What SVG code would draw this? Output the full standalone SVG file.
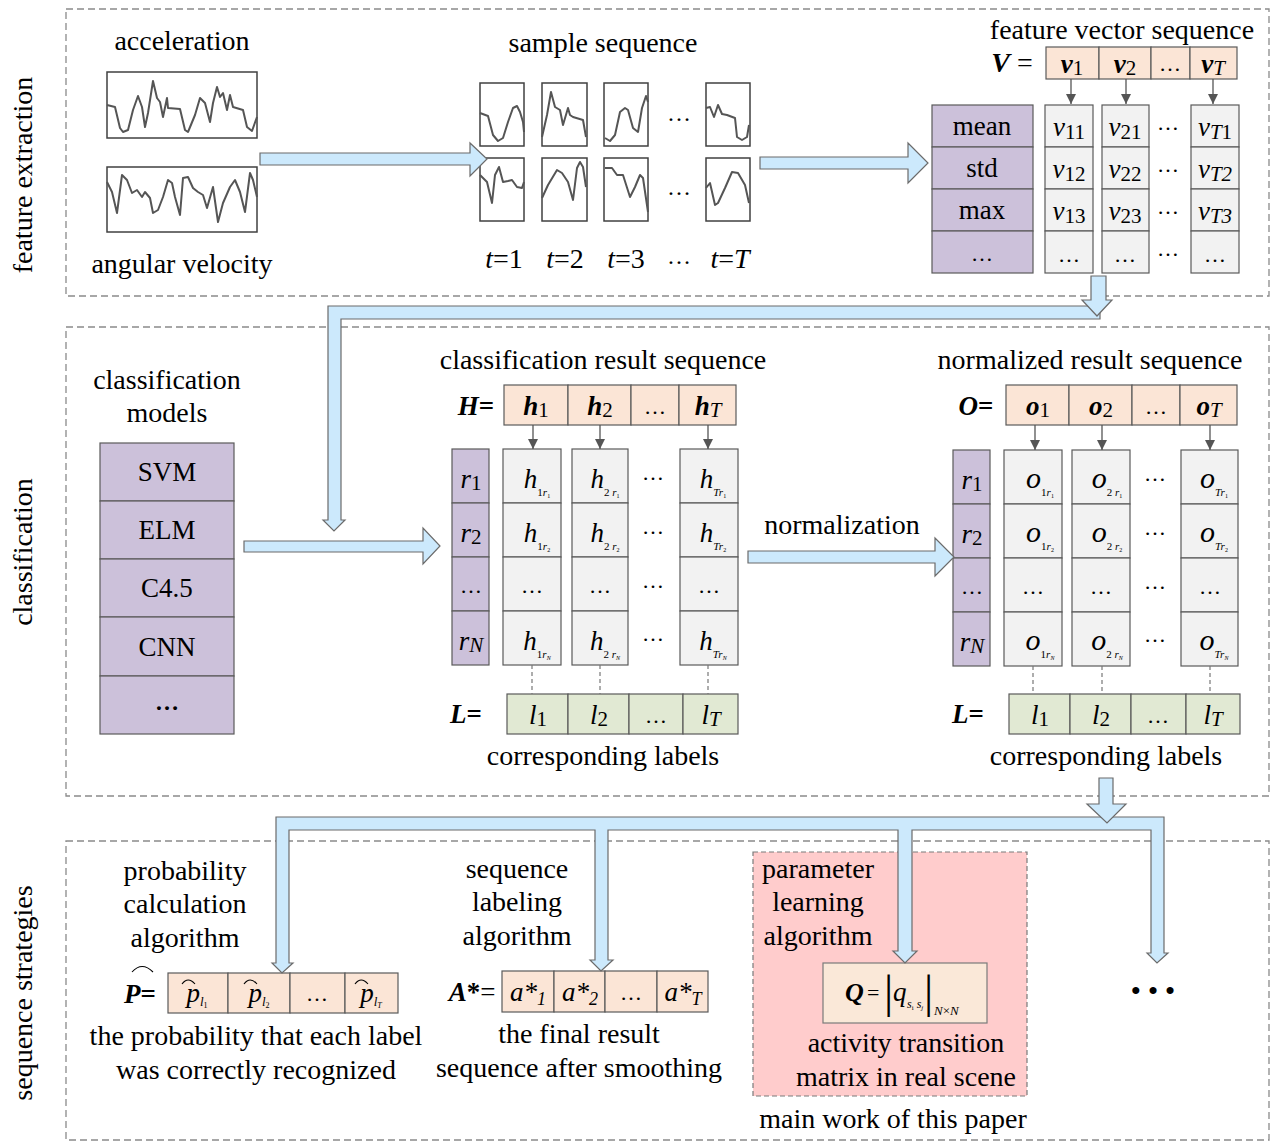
<svg xmlns="http://www.w3.org/2000/svg" width="1276" height="1142" viewBox="0 0 1276 1142" font-size="27">
<defs>
<style>
.t{font-family:"Liberation Serif","Times New Roman",serif;fill:#000}
.lb{font-size:28px}
.i{font-style:italic}
.b{font-weight:bold}
.bi{font-style:italic;font-weight:bold}
.n{font-style:normal;font-weight:normal}
.ni{font-style:italic;font-weight:normal}
.panel{fill:none;stroke:#8a8a8a;stroke-width:1.3;stroke-dasharray:7,4}
.org{fill:#fbe5d6;stroke:#5a5a5a;stroke-width:1.2}
.pur{fill:#ccc1da;stroke:#5a5a5a;stroke-width:1.2}
.gry{fill:#f2f2f2;stroke:#5a5a5a;stroke-width:1.2}
.grn{fill:#e1e9d3;stroke:#5a5a5a;stroke-width:1.2}
.sig{fill:#fff;stroke:#404040;stroke-width:1.5}
.wave{fill:none;stroke:#555;stroke-width:2;stroke-linejoin:round}
.blk{fill:#cce9fc;stroke:#6b6b6b;stroke-width:1.2}
.sa{stroke:#555;stroke-width:1.3;marker-end:url(#ah)}
.dl{stroke:#777;stroke-width:1.2;stroke-dasharray:4,3}
.hat{fill:none;stroke:#000;stroke-width:1.1}
</style>
<marker id="ah" markerWidth="10" markerHeight="10" refX="10" refY="5" orient="auto" markerUnits="userSpaceOnUse">
<path d="M0,0 L10,5 L0,10 z" fill="#555"/>
</marker>
</defs>
<rect width="1276" height="1142" fill="#fff"/>

<g id="panels">
<rect class="panel" x="66" y="9" width="1203" height="287"/>
<rect class="panel" x="66" y="327" width="1203" height="469"/>
<rect class="panel" x="66" y="841" width="1203" height="299"/>
<text class="t lb" text-anchor="middle" transform="translate(32,175) rotate(-90)">feature extraction</text>
<text class="t lb" text-anchor="middle" transform="translate(32,552) rotate(-90)">classification</text>
<text class="t lb" text-anchor="middle" transform="translate(32,993) rotate(-90)">sequence strategies</text>
</g>

<g id="signals">
<text class="t lb" x="182" y="50" text-anchor="middle">acceleration</text>
<rect class="sig" x="107" y="72" width="150" height="66"/>
<polyline class="wave" points="107,105 115,107 120,128 123,132 128,130 133,110 138,96 142,107 145,127 148,113 153,81 157,98 160,102 163,117 167,98 168,108 180,109 185,130 188,132 195,115 200,98 205,103 210,122 213,103 217,87 220,97 223,93 227,110 230,95 233,107 243,110 247,127 252,131 257,117"/>
<rect class="sig" x="107" y="167" width="150" height="65"/>
<polyline class="wave" points="107,182 112,192 117,213 122,175 127,180 132,193 137,190 142,197 145,192 150,198 153,213 158,210 163,197 168,180 172,183 175,197 180,215 183,178 188,177 193,188 198,192 203,195 207,208 213,187 218,222 223,203 230,187 235,180 240,192 245,212 250,173 253,180 257,197"/>
<text class="t lb" x="182" y="273" text-anchor="middle">angular velocity</text>
</g>

<g id="samples">
<text class="t lb" x="603" y="52" text-anchor="middle">sample sequence</text>
<rect class="sig" x="480" y="83" width="44" height="63"/>
<rect class="sig" x="542" y="83" width="45" height="63"/>
<rect class="sig" x="604" y="83" width="44" height="63"/>
<rect class="sig" x="706" y="83" width="44" height="63"/>
<rect class="sig" x="480" y="158" width="44" height="63"/>
<rect class="sig" x="542" y="158" width="45" height="63"/>
<rect class="sig" x="604" y="158" width="44" height="63"/>
<rect class="sig" x="706" y="158" width="44" height="63"/>
<polyline class="wave" points="480,113 488,116 493,135 498,141 503,138 508,122 513,108 517,106 520,112 523,122 524,132"/>
<polyline class="wave" points="542,137 547,115 551,92 555,107 560,110 563,125 568,108 570,115 573,117 583,120 586,137"/>
<polyline class="wave" points="605,138 610,141 615,135 620,112 625,108 628,110 633,128 638,132 642,108 646,96 648,102"/>
<polyline class="wave" points="706,108 710,107 714,117 718,105 722,114 727,115 735,118 737,137 742,140 747,137 749,125"/>
<polyline class="wave" points="480,175 487,182 492,203 495,175 499,167 503,182 508,181 512,180 517,187 522,188 524,182"/>
<polyline class="wave" points="542,198 548,185 557,170 562,173 568,182 573,200 577,168 580,162 583,167 586,187"/>
<polyline class="wave" points="605,168 612,168 617,175 623,175 630,197 635,187 640,175 643,178 648,212"/>
<polyline class="wave" points="706,188 710,183 715,205 718,203 725,188 732,172 738,173 745,185 749,203"/>
<text class="t" x="679" y="121" text-anchor="middle" font-size="24">…</text>
<text class="t" x="679" y="195" text-anchor="middle" font-size="24">…</text>
<text class="t lb" x="504" y="268" text-anchor="middle"><tspan class="i">t</tspan>=1</text>
<text class="t lb" x="565" y="268" text-anchor="middle"><tspan class="i">t</tspan>=2</text>
<text class="t lb" x="626" y="268" text-anchor="middle"><tspan class="i">t</tspan>=3</text>
<text class="t" x="679" y="264" text-anchor="middle" font-size="24">…</text>
<text class="t lb" x="730" y="268" text-anchor="middle"><tspan class="i">t</tspan>=<tspan class="i">T</tspan></text>
</g>

<g id="features">
<text class="t lb" x="1122" y="39" text-anchor="middle">feature vector sequence</text>
<text class="t lb" x="1012" y="72" text-anchor="middle"><tspan class="bi">V</tspan> =</text>
<rect class="org" x="1046" y="47" width="53" height="32"/>
<rect class="org" x="1099" y="47" width="52" height="32"/>
<rect class="org" x="1151" y="47" width="39" height="32"/>
<rect class="org" x="1190" y="47" width="47" height="32"/>
<text class="t bi" x="1072" y="73" text-anchor="middle">v<tspan class="n" font-size="21" dy="2">1</tspan></text>
<text class="t bi" x="1125" y="73" text-anchor="middle">v<tspan class="n" font-size="21" dy="2">2</tspan></text>
<text class="t" x="1170" y="71" text-anchor="middle" font-size="22">…</text>
<text class="t bi" x="1213" y="73" text-anchor="middle">v<tspan class="ni" font-size="21" dy="2">T</tspan></text>
<rect class="pur" x="932" y="105" width="101" height="42"/>
<rect class="pur" x="932" y="147" width="101" height="42"/>
<rect class="pur" x="932" y="189" width="101" height="42"/>
<rect class="pur" x="932" y="231" width="101" height="42"/>
<text class="t" x="982" y="135" text-anchor="middle">mean</text>
<text class="t" x="982" y="177" text-anchor="middle">std</text>
<text class="t" x="982" y="219" text-anchor="middle">max</text>
<text class="t" x="982" y="261" text-anchor="middle" font-size="22">…</text>
<rect class="gry" x="1045" y="105" width="48" height="42"/>
<rect class="gry" x="1045" y="147" width="48" height="42"/>
<rect class="gry" x="1045" y="189" width="48" height="42"/>
<rect class="gry" x="1045" y="231" width="48" height="42"/>
<rect class="gry" x="1102" y="105" width="47" height="42"/>
<rect class="gry" x="1102" y="147" width="47" height="42"/>
<rect class="gry" x="1102" y="189" width="47" height="42"/>
<rect class="gry" x="1102" y="231" width="47" height="42"/>
<rect class="gry" x="1191" y="105" width="48" height="42"/>
<rect class="gry" x="1191" y="147" width="48" height="42"/>
<rect class="gry" x="1191" y="189" width="48" height="42"/>
<rect class="gry" x="1191" y="231" width="48" height="42"/>
<text class="t i" x="1069" y="136" text-anchor="middle">v<tspan class="n" font-size="21" dy="3">11</tspan></text>
<text class="t i" x="1069" y="178" text-anchor="middle">v<tspan class="n" font-size="21" dy="3">12</tspan></text>
<text class="t i" x="1069" y="220" text-anchor="middle">v<tspan class="n" font-size="21" dy="3">13</tspan></text>
<text class="t" x="1069" y="262" text-anchor="middle" font-size="22">…</text>
<text class="t i" x="1125" y="136" text-anchor="middle">v<tspan class="n" font-size="21" dy="3">21</tspan></text>
<text class="t i" x="1125" y="178" text-anchor="middle">v<tspan class="n" font-size="21" dy="3">22</tspan></text>
<text class="t i" x="1125" y="220" text-anchor="middle">v<tspan class="n" font-size="21" dy="3">23</tspan></text>
<text class="t" x="1125" y="262" text-anchor="middle" font-size="22">…</text>
<text class="t i" x="1215" y="136" text-anchor="middle">v<tspan font-size="21" dy="3">T</tspan><tspan font-size="21" class="n">1</tspan></text>
<text class="t i" x="1215" y="178" text-anchor="middle">v<tspan font-size="21" dy="3">T2</tspan></text>
<text class="t i" x="1215" y="220" text-anchor="middle">v<tspan font-size="21" dy="3">T3</tspan></text>
<text class="t" x="1215" y="262" text-anchor="middle" font-size="22">…</text>
<text class="t" x="1168" y="130" text-anchor="middle" font-size="22">…</text>
<text class="t" x="1168" y="172" text-anchor="middle" font-size="22">…</text>
<text class="t" x="1168" y="214" text-anchor="middle" font-size="22">…</text>
<text class="t" x="1168" y="256" text-anchor="middle" font-size="22">…</text>
</g>

<g id="models">
<text class="t lb" x="167" y="389" text-anchor="middle">classification</text>
<text class="t lb" x="167" y="422" text-anchor="middle">models</text>
<rect class="pur" x="100" y="443" width="134" height="58"/>
<rect class="pur" x="100" y="501" width="134" height="58"/>
<rect class="pur" x="100" y="559" width="134" height="58"/>
<rect class="pur" x="100" y="617" width="134" height="59"/>
<rect class="pur" x="100" y="676" width="134" height="58"/>
<text class="t" x="167" y="481" text-anchor="middle">SVM</text>
<text class="t" x="167" y="539" text-anchor="middle">ELM</text>
<text class="t" x="167" y="597" text-anchor="middle">C4.5</text>
<text class="t" x="167" y="656" text-anchor="middle">CNN</text>
<text class="t b" x="167" y="710" text-anchor="middle" font-size="24">…</text>
</g>

<g id="classification-result">
<text class="t lb" x="603" y="369" text-anchor="middle">classification result sequence</text>
<text class="t b" x="476" y="415" text-anchor="middle"><tspan class="bi">H</tspan>=</text>
<rect class="org" x="504" y="385" width="64" height="40"/>
<rect class="org" x="568" y="385" width="63" height="40"/>
<rect class="org" x="631" y="385" width="48" height="40"/>
<rect class="org" x="679" y="385" width="57" height="40"/>
<text class="t bi" x="536" y="415" text-anchor="middle">h<tspan class="n" font-size="21" dy="2">1</tspan></text>
<text class="t bi" x="600" y="415" text-anchor="middle">h<tspan class="n" font-size="21" dy="2">2</tspan></text>
<text class="t" x="655" y="414" text-anchor="middle" font-size="22">…</text>
<text class="t bi" x="708" y="415" text-anchor="middle">h<tspan class="ni" font-size="21" dy="2">T</tspan></text>
<rect class="pur" x="452" y="449" width="37" height="54"/>
<rect class="pur" x="452" y="503" width="37" height="54"/>
<rect class="pur" x="452" y="557" width="37" height="54"/>
<rect class="pur" x="452" y="611" width="37" height="54"/>
<text class="t i" x="471" y="488" text-anchor="middle">r<tspan class="n" font-size="21" dy="2">1</tspan></text>
<text class="t i" x="471" y="542" text-anchor="middle">r<tspan class="n" font-size="21" dy="2">2</tspan></text>
<text class="t" x="471" y="593" text-anchor="middle" font-size="22">…</text>
<text class="t i" x="471" y="650" text-anchor="middle">r<tspan font-size="21" dy="2">N</tspan></text>
<rect class="gry" x="503" y="449" width="58" height="54"/>
<rect class="gry" x="503" y="503" width="58" height="54"/>
<rect class="gry" x="503" y="557" width="58" height="54"/>
<rect class="gry" x="503" y="611" width="58" height="54"/>
<rect class="gry" x="572" y="449" width="56" height="54"/>
<rect class="gry" x="572" y="503" width="56" height="54"/>
<rect class="gry" x="572" y="557" width="56" height="54"/>
<rect class="gry" x="572" y="611" width="56" height="54"/>
<rect class="gry" x="680" y="449" width="58" height="54"/>
<rect class="gry" x="680" y="503" width="58" height="54"/>
<rect class="gry" x="680" y="557" width="58" height="54"/>
<rect class="gry" x="680" y="611" width="58" height="54"/>
<text class="t i" x="537" y="488" text-anchor="middle">h<tspan class="n" font-size="11" dy="8">1</tspan><tspan font-size="11">r</tspan><tspan class="n" font-size="6" dy="2">1</tspan></text>
<text class="t i" x="537" y="542" text-anchor="middle">h<tspan class="n" font-size="11" dy="8">1</tspan><tspan font-size="11">r</tspan><tspan class="n" font-size="6" dy="2">2</tspan></text>
<text class="t" x="532" y="593" text-anchor="middle" font-size="22">…</text>
<text class="t i" x="537" y="650" text-anchor="middle">h<tspan class="n" font-size="11" dy="8">1</tspan><tspan font-size="11">r</tspan><tspan font-size="6" dy="2">N</tspan></text>
<text class="t i" x="605" y="488" text-anchor="middle">h<tspan class="n" font-size="11" dy="8">2</tspan><tspan font-size="11"> r</tspan><tspan class="n" font-size="6" dy="2">1</tspan></text>
<text class="t i" x="605" y="542" text-anchor="middle">h<tspan class="n" font-size="11" dy="8">2</tspan><tspan font-size="11"> r</tspan><tspan class="n" font-size="6" dy="2">2</tspan></text>
<text class="t" x="600" y="593" text-anchor="middle" font-size="22">…</text>
<text class="t i" x="605" y="650" text-anchor="middle">h<tspan class="n" font-size="11" dy="8">2</tspan><tspan font-size="11"> r</tspan><tspan font-size="6" dy="2">N</tspan></text>
<text class="t i" x="713" y="488" text-anchor="middle">h<tspan font-size="11" dy="8">Tr</tspan><tspan class="n" font-size="6" dy="2">1</tspan></text>
<text class="t i" x="713" y="542" text-anchor="middle">h<tspan font-size="11" dy="8">Tr</tspan><tspan class="n" font-size="6" dy="2">2</tspan></text>
<text class="t" x="709" y="593" text-anchor="middle" font-size="22">…</text>
<text class="t i" x="713" y="650" text-anchor="middle">h<tspan font-size="11" dy="8">Tr</tspan><tspan font-size="6" dy="2">N</tspan></text>
<text class="t" x="653" y="480" text-anchor="middle" font-size="22">…</text>
<text class="t" x="653" y="534" text-anchor="middle" font-size="22">…</text>
<text class="t" x="653" y="588" text-anchor="middle" font-size="22">…</text>
<text class="t" x="653" y="641" text-anchor="middle" font-size="22">…</text>
<text class="t b" x="466" y="723" text-anchor="middle"><tspan class="bi">L</tspan>=</text>
<rect class="grn" x="507" y="694" width="61" height="40"/>
<rect class="grn" x="568" y="694" width="61" height="40"/>
<rect class="grn" x="629" y="694" width="54" height="40"/>
<rect class="grn" x="683" y="694" width="55" height="40"/>
<text class="t i" x="538" y="724" text-anchor="middle">l<tspan class="n" font-size="21" dy="2">1</tspan></text>
<text class="t i" x="599" y="724" text-anchor="middle">l<tspan class="n" font-size="21" dy="2">2</tspan></text>
<text class="t" x="656" y="723" text-anchor="middle" font-size="22">…</text>
<text class="t i" x="711" y="724" text-anchor="middle">l<tspan font-size="21" dy="2">T</tspan></text>
<text class="t lb" x="603" y="765" text-anchor="middle">corresponding labels</text>
</g>

<g id="normalized-result">
<text class="t lb" x="842" y="534" text-anchor="middle">normalization</text>
<text class="t lb" x="1090" y="369" text-anchor="middle">normalized result sequence</text>
<text class="t b" x="976" y="415" text-anchor="middle"><tspan class="bi">O</tspan>=</text>
<rect class="org" x="1006" y="385" width="63" height="40"/>
<rect class="org" x="1069" y="385" width="63" height="40"/>
<rect class="org" x="1132" y="385" width="48" height="40"/>
<rect class="org" x="1180" y="385" width="57" height="40"/>
<text class="t bi" x="1038" y="415" text-anchor="middle">o<tspan class="n" font-size="21" dy="2">1</tspan></text>
<text class="t bi" x="1101" y="415" text-anchor="middle">o<tspan class="n" font-size="21" dy="2">2</tspan></text>
<text class="t" x="1156" y="414" text-anchor="middle" font-size="22">…</text>
<text class="t bi" x="1209" y="415" text-anchor="middle">o<tspan class="ni" font-size="21" dy="2">T</tspan></text>
<rect class="pur" x="953" y="450" width="37" height="54"/>
<rect class="pur" x="953" y="504" width="37" height="54"/>
<rect class="pur" x="953" y="558" width="37" height="54"/>
<rect class="pur" x="953" y="612" width="37" height="54"/>
<text class="t i" x="972" y="489" text-anchor="middle">r<tspan class="n" font-size="21" dy="2">1</tspan></text>
<text class="t i" x="972" y="543" text-anchor="middle">r<tspan class="n" font-size="21" dy="2">2</tspan></text>
<text class="t" x="972" y="594" text-anchor="middle" font-size="22">…</text>
<text class="t i" x="972" y="651" text-anchor="middle">r<tspan font-size="21" dy="2">N</tspan></text>
<rect class="gry" x="1004" y="450" width="58" height="54"/>
<rect class="gry" x="1004" y="504" width="58" height="54"/>
<rect class="gry" x="1004" y="558" width="58" height="54"/>
<rect class="gry" x="1004" y="612" width="58" height="54"/>
<rect class="gry" x="1072" y="450" width="58" height="54"/>
<rect class="gry" x="1072" y="504" width="58" height="54"/>
<rect class="gry" x="1072" y="558" width="58" height="54"/>
<rect class="gry" x="1072" y="612" width="58" height="54"/>
<rect class="gry" x="1181" y="450" width="57" height="54"/>
<rect class="gry" x="1181" y="504" width="57" height="54"/>
<rect class="gry" x="1181" y="558" width="57" height="54"/>
<rect class="gry" x="1181" y="612" width="57" height="54"/>
<text class="t i" x="1040" y="488" text-anchor="middle" font-size="30">o<tspan class="n" font-size="11" dy="8">1</tspan><tspan font-size="11">r</tspan><tspan class="n" font-size="6" dy="2">1</tspan></text>
<text class="t i" x="1040" y="542" text-anchor="middle" font-size="30">o<tspan class="n" font-size="11" dy="8">1</tspan><tspan font-size="11">r</tspan><tspan class="n" font-size="6" dy="2">2</tspan></text>
<text class="t" x="1033" y="594" text-anchor="middle" font-size="22">…</text>
<text class="t i" x="1040" y="650" text-anchor="middle" font-size="30">o<tspan class="n" font-size="11" dy="8">1</tspan><tspan font-size="11">r</tspan><tspan font-size="6" dy="2">N</tspan></text>
<text class="t i" x="1107" y="488" text-anchor="middle" font-size="30">o<tspan class="n" font-size="11" dy="8">2</tspan><tspan font-size="11"> r</tspan><tspan class="n" font-size="6" dy="2">1</tspan></text>
<text class="t i" x="1107" y="542" text-anchor="middle" font-size="30">o<tspan class="n" font-size="11" dy="8">2</tspan><tspan font-size="11"> r</tspan><tspan class="n" font-size="6" dy="2">2</tspan></text>
<text class="t" x="1101" y="594" text-anchor="middle" font-size="22">…</text>
<text class="t i" x="1107" y="650" text-anchor="middle" font-size="30">o<tspan class="n" font-size="11" dy="8">2</tspan><tspan font-size="11"> r</tspan><tspan font-size="6" dy="2">N</tspan></text>
<text class="t i" x="1214" y="488" text-anchor="middle" font-size="30">o<tspan font-size="11" dy="8">Tr</tspan><tspan class="n" font-size="6" dy="2">1</tspan></text>
<text class="t i" x="1214" y="542" text-anchor="middle" font-size="30">o<tspan font-size="11" dy="8">Tr</tspan><tspan class="n" font-size="6" dy="2">2</tspan></text>
<text class="t" x="1210" y="594" text-anchor="middle" font-size="22">…</text>
<text class="t i" x="1214" y="650" text-anchor="middle" font-size="30">o<tspan font-size="11" dy="8">Tr</tspan><tspan font-size="6" dy="2">N</tspan></text>
<text class="t" x="1155" y="481" text-anchor="middle" font-size="22">…</text>
<text class="t" x="1155" y="535" text-anchor="middle" font-size="22">…</text>
<text class="t" x="1155" y="589" text-anchor="middle" font-size="22">…</text>
<text class="t" x="1155" y="642" text-anchor="middle" font-size="22">…</text>
<text class="t b" x="968" y="723" text-anchor="middle"><tspan class="bi">L</tspan>=</text>
<rect class="grn" x="1009" y="694" width="61" height="40"/>
<rect class="grn" x="1070" y="694" width="61" height="40"/>
<rect class="grn" x="1131" y="694" width="55" height="40"/>
<rect class="grn" x="1186" y="694" width="54" height="40"/>
<text class="t i" x="1040" y="724" text-anchor="middle">l<tspan class="n" font-size="21" dy="2">1</tspan></text>
<text class="t i" x="1101" y="724" text-anchor="middle">l<tspan class="n" font-size="21" dy="2">2</tspan></text>
<text class="t" x="1158" y="723" text-anchor="middle" font-size="22">…</text>
<text class="t i" x="1213" y="724" text-anchor="middle">l<tspan font-size="21" dy="2">T</tspan></text>
<text class="t lb" x="1106" y="765" text-anchor="middle">corresponding labels</text>
</g>

<g id="probability">
<text class="t lb" x="185" y="880" text-anchor="middle">probability</text>
<text class="t lb" x="185" y="913" text-anchor="middle">calculation</text>
<text class="t lb" x="185" y="947" text-anchor="middle">algorithm</text>
<text class="t b" x="140" y="1003" text-anchor="middle"><tspan class="bi">P</tspan>=</text>
<path class="hat" d="M132,972 Q142,961 153,972" stroke-width="1.6"/>
<rect class="org" x="168" y="973" width="60" height="40"/>
<rect class="org" x="228" y="973" width="62" height="40"/>
<rect class="org" x="290" y="973" width="55" height="40"/>
<rect class="org" x="345" y="973" width="53" height="40"/>
<text class="t i" x="197" y="1002" text-anchor="middle">p<tspan font-size="13" dy="4">l</tspan><tspan class="n" font-size="8" dy="2">1</tspan></text>
<path class="hat" d="M182,984 Q188,976 195,984"/>
<text class="t i" x="259" y="1002" text-anchor="middle">p<tspan font-size="13" dy="4">l</tspan><tspan class="n" font-size="8" dy="2">2</tspan></text>
<path class="hat" d="M244,984 Q250,976 257,984"/>
<text class="t" x="317" y="1001" text-anchor="middle" font-size="22">…</text>
<text class="t i" x="371" y="1002" text-anchor="middle">p<tspan font-size="13" dy="4">l</tspan><tspan font-size="8" dy="2">T</tspan></text>
<path class="hat" d="M355,984 Q361,976 368,984"/>
<text class="t lb" x="256" y="1045" text-anchor="middle">the probability that each label</text>
<text class="t lb" x="256" y="1079" text-anchor="middle">was correctly recognized</text>
</g>

<g id="labeling">
<text class="t lb" x="517" y="878" text-anchor="middle">sequence</text>
<text class="t lb" x="517" y="911" text-anchor="middle">labeling</text>
<text class="t lb" x="517" y="945" text-anchor="middle">algorithm</text>
<text class="t" x="472" y="1001" text-anchor="middle"><tspan class="bi">A</tspan><tspan class="b">*</tspan>=</text>
<rect class="org" x="502" y="971" width="52" height="41"/>
<rect class="org" x="554" y="971" width="51" height="41"/>
<rect class="org" x="605" y="971" width="52" height="41"/>
<rect class="org" x="657" y="971" width="51" height="41"/>
<text class="t i" x="528" y="1001" text-anchor="middle">a*<tspan font-size="18" dy="4">1</tspan></text>
<text class="t i" x="580" y="1001" text-anchor="middle">a*<tspan font-size="18" dy="4">2</tspan></text>
<text class="t" x="631" y="1000" text-anchor="middle" font-size="22">…</text>
<text class="t i" x="683" y="1001" text-anchor="middle">a*<tspan font-size="18" dy="4">T</tspan></text>
<text class="t lb" x="579" y="1043" text-anchor="middle">the final result</text>
<text class="t lb" x="579" y="1077" text-anchor="middle">sequence after smoothing</text>
</g>

<g id="parameter-learning">
<rect x="753" y="852" width="274" height="244" fill="#ffcccc" stroke="#7a7a7a" stroke-width="1.2" stroke-dasharray="5,3"/>
<text class="t lb" x="818" y="878" text-anchor="middle">parameter</text>
<text class="t lb" x="818" y="911" text-anchor="middle">learning</text>
<text class="t lb" x="818" y="945" text-anchor="middle">algorithm</text>
<rect x="823" y="963" width="164" height="60" fill="#fae8d8" stroke="#7a7a7a" stroke-width="1.2"/>
<text class="t bi" x="845" y="1001" font-size="26">Q</text>
<text class="t" x="867" y="1000" font-size="22">=</text>
<text class="t" x="884" y="1007" font-size="46">|</text>
<text class="t i" x="893" y="1001" font-size="27">q</text>
<text class="t i" x="907" y="1008" font-size="12">s<tspan class="n" font-size="7" dy="2">i</tspan><tspan dy="-2"> s</tspan><tspan font-size="7" dy="2">j</tspan></text>
<text class="t" x="924" y="1007" font-size="46">|</text>
<text class="t i" x="934" y="1015" font-size="13">N<tspan class="n">×</tspan>N</text>
<text class="t lb" x="906" y="1052" text-anchor="middle">activity transition</text>
<text class="t lb" x="906" y="1086" text-anchor="middle">matrix in real scene</text>
<text class="t lb" x="893" y="1128" text-anchor="middle">main work of this paper</text>
</g>

<g id="more">
<text class="t b" x="1157" y="999" text-anchor="middle" font-size="26" letter-spacing="8">•••</text>
</g>

<g id="connectors">
<polygon class="blk" points="260,153 470,153 470,143 487,159 470,176 470,165 260,165"/>
<polygon class="blk" points="760,157 908,157 908,143 928,163 908,183 908,169 760,169"/>
<polygon class="blk" points="328,306 1100,306 1100,319 341,319 341,520 345,520 334,531 323,520 328,520"/>
<polygon class="blk" points="1091,276 1106,276 1106,300 1112,300 1097,316 1082,300 1091,300"/>
<polygon class="blk" points="244,541 423,541 423,528 440,546 423,564 423,552 244,552"/>
<polygon class="blk" points="748,551 935,551 935,538 954,557 935,576 935,563 748,563"/>
<polygon class="blk" points="276,817 1164,817 1164,953 1168,953 1157,963 1147,953 1151,953 1151,830 912,830 912,951 917,951 905,963 893,951 898,951 898,830 608,830 608,960 613,960 601,971 590,960 595,960 595,830 289,830 289,963 293,963 282,973 272,963 276,963"/>
<polygon class="blk" points="1099,778 1113,778 1113,804 1126,804 1107,823 1087,804 1099,804"/>
<line class="sa" x1="1071" y1="79" x2="1071" y2="104"/>
<line class="sa" x1="1126" y1="79" x2="1126" y2="104"/>
<line class="sa" x1="1213" y1="79" x2="1213" y2="104"/>
<line class="sa" x1="533" y1="425" x2="533" y2="449"/>
<line class="sa" x1="600" y1="425" x2="600" y2="449"/>
<line class="sa" x1="708" y1="425" x2="708" y2="449"/>
<line class="sa" x1="1035" y1="425" x2="1035" y2="450"/>
<line class="sa" x1="1102" y1="425" x2="1102" y2="450"/>
<line class="sa" x1="1210" y1="425" x2="1210" y2="450"/>
<line class="dl" x1="532" y1="665" x2="532" y2="694"/>
<line class="dl" x1="600" y1="665" x2="600" y2="694"/>
<line class="dl" x1="708" y1="665" x2="708" y2="694"/>
<line class="dl" x1="1033" y1="666" x2="1033" y2="694"/>
<line class="dl" x1="1102" y1="666" x2="1102" y2="694"/>
<line class="dl" x1="1210" y1="666" x2="1210" y2="694"/>
</g>
</svg>
